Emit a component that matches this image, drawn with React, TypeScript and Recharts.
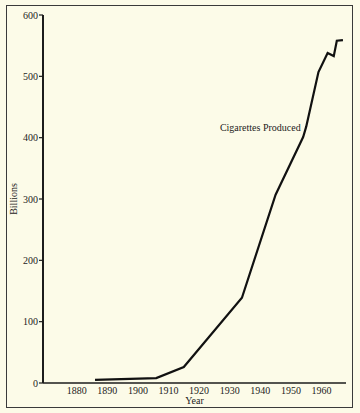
import React from 'react';
import { LineChart, Line, XAxis, YAxis, ReferenceDot, Label } from 'recharts';

const years = [1886, 1906, 1915, 1934, 1945, 1954, 1955, 1959, 1962, 1964, 1965, 1967];
const billions = [5, 8, 26, 139, 307, 401, 418, 507, 538, 533, 558, 559];
const xTicks = [1880, 1890, 1900, 1910, 1920, 1930, 1940, 1950, 1960];
const yTicks = [0, 100, 200, 300, 400, 500, 600];
const seriesName = 'Cigarettes Produced';
const labelAt = { year: 1940, value: 416 };

const data = years.map((y, i) => ({ year: y, value: billions[i] }));

const FONT = "'Liberation Serif', 'DejaVu Serif', serif";
const INK = '#1c1c1c';
const BG = '#fcfbe8';

export default function App() {
  return (
    <div style={{ position: 'absolute', left: 0, top: 0, width: 360, height: 413, background: BG, overflow: 'hidden' }}>
      <div
        style={{
          position: 'absolute',
          left: 6,
          top: 5,
          width: 345,
          height: 401,
          border: '1.5px solid #3a3a3a',
        }}
      />
      <div style={{ position: 'absolute', left: 0, top: 0 }}>
        <LineChart width={360} height={413} data={data} margin={{ top: 15, right: 14, bottom: 0, left: 0 }}>
          <XAxis
            dataKey="year"
            type="number"
            domain={[1869, 1968]}
            ticks={xTicks}
            height={30}
            tickLine={false}
            tickSize={0}
            tickMargin={4}
            axisLine={{ stroke: INK, strokeWidth: 1.5 }}
            tick={{ fontSize: 10, fill: INK, fontFamily: FONT }}
            allowDataOverflow
          >
            <Label value="Year" position="insideBottom" offset={9} style={{ fontSize: 10, fill: INK, fontFamily: FONT }} />
          </XAxis>
          <YAxis
            type="number"
            domain={[0, 600]}
            ticks={yTicks}
            width={43}
            tickSize={4}
            tickMargin={1}
            tickLine={{ stroke: INK, strokeWidth: 1.2 }}
            axisLine={{ stroke: INK, strokeWidth: 2 }}
            tick={{ fontSize: 10, fill: INK, fontFamily: FONT }}
          >
            <Label value="Billions" angle={-90} position="insideLeft" offset={13} style={{ fontSize: 10, fill: INK, fontFamily: FONT, textAnchor: 'middle' }} />
          </YAxis>
          <Line
            type="linear"
            dataKey="value"
            stroke="#111"
            strokeWidth={2.2}
            dot={false}
            isAnimationActive={false}
          />
          <ReferenceDot
            x={labelAt.year}
            y={labelAt.value}
            r={0}
            fill="none"
            stroke="none"
            label={{ value: seriesName, position: 'center', fontSize: 10, fill: INK, fontFamily: FONT }}
          />
        </LineChart>
      </div>
    </div>
  );
}
